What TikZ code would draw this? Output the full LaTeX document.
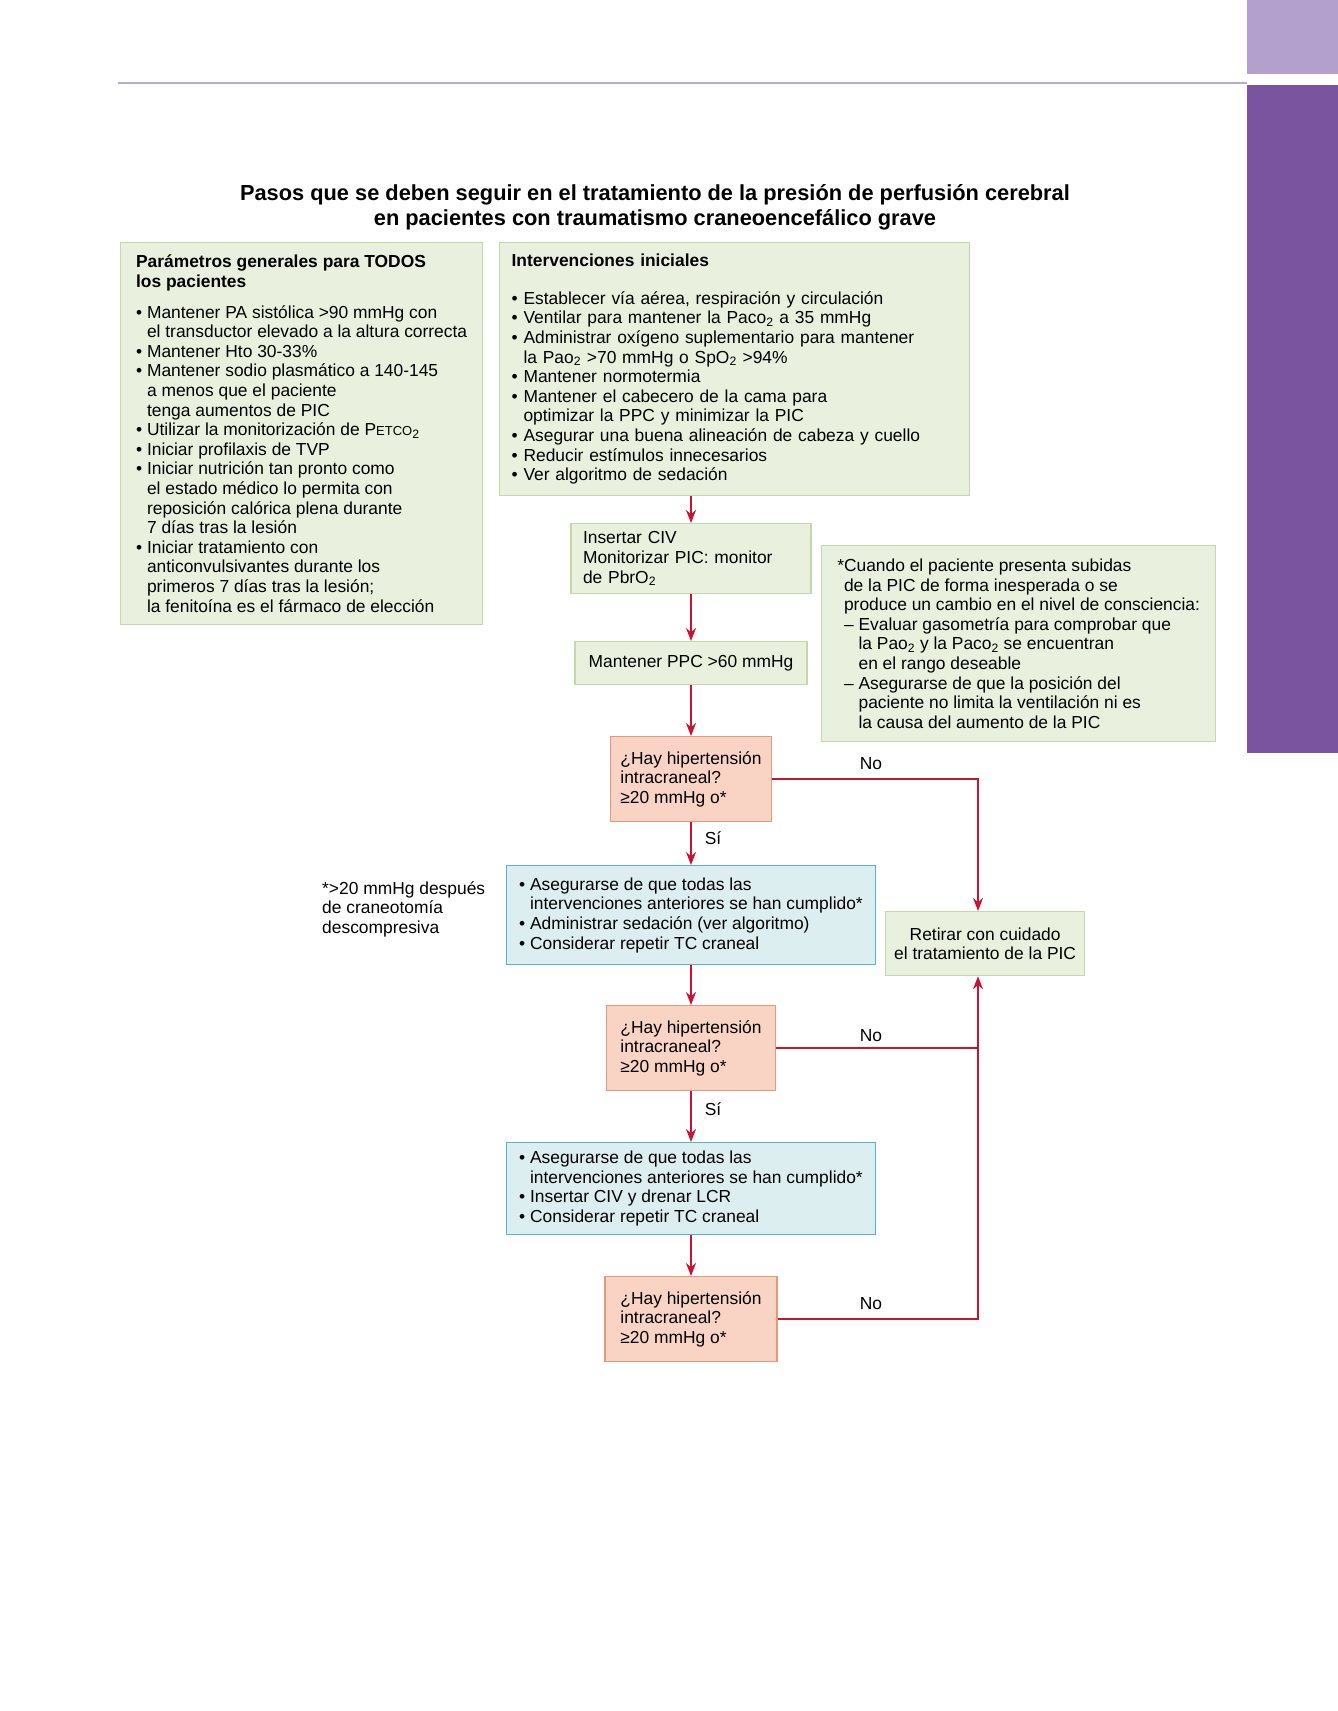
\documentclass[tikz,border=0pt]{standalone}
\usepackage{fontspec}
\setmainfont{Liberation Sans}
\usepackage{tikz}
\usetikzlibrary{arrows.meta,positioning,calc}
\definecolor{gfill}{RGB}{233,241,222}
\definecolor{gbord}{RGB}{196,216,170}
\definecolor{sfill}{RGB}{249,212,196}
\definecolor{sbord}{RGB}{232,152,122}
\definecolor{bfill}{RGB}{221,238,241}
\definecolor{bbord}{RGB}{86,180,212}
\definecolor{flowred}{RGB}{204,18,48}
\definecolor{lilac}{RGB}{180,160,205}
\definecolor{violet}{RGB}{123,84,160}
\definecolor{ruleln}{RGB}{184,172,206}
\newcommand{\bodyfont}{\fontsize{17.4}{19.6}\selectfont}
\newcommand{\titlefont}{\fontsize{21.8}{25}\selectfont\bfseries}
\newcommand{\bitem}{\textbullet\ }
\newcommand{\bcont}{\hphantom{\textbullet\ }}
\newcommand{\subtwo}{\textsubscript{2}}
\tikzset{
  box/.style={draw, line width=1.3pt, anchor=north west, align=left,
    inner xsep=12pt, inner ysep=4pt, font=\bodyfont},
  greenbox/.style={box, draw=gbord, fill=gfill},
  askbox/.style={box, draw=sbord, fill=sfill, anchor=north, inner xsep=10pt},
  bluebox/.style={box, draw=bbord, fill=bfill, anchor=north},
  flow/.style={-{Stealth[length=13pt,width=10pt]}, line width=1.8pt, flowred},
  railln/.style={line width=1.8pt, flowred},
  lbl/.style={font=\bodyfont, inner sep=0pt},
}

\begin{document}
\begin{tikzpicture}[x=1pt, y=-1pt]
    \useasboundingbox (0,0) rectangle (1338,1711);
    \fill[white] (0,0) rectangle (1338,1711);
    % page furniture
    \fill[lilac] (1247,0) rectangle (1338,74);
    \fill[violet] (1247,85) rectangle (1338,753);
    \draw[ruleln, line width=2pt] (118,83) -- (1247,83);
    \node[font=\titlefont, align=center] (titulo) at (655,207)
      {Pasos que se deben seguir en el tratamiento de la presión de perfusión cerebral\\
       en pacientes con traumatismo craneoencefálico grave};
    % upper green boxes
    \node[greenbox, minimum width=362pt, minimum height=382pt] (params) at (120,242)
      {\textbf{Parámetros generales para TODOS}\\
       \textbf{los pacientes}\\[11pt]
       \bitem Mantener PA sistólica >90 mmHg con\\
       \bcont el transductor elevado a la altura correcta\\
       \bitem Mantener Hto 30-33\%\\
       \bitem Mantener sodio plasmático a 140-145\\
       \bcont a menos que el paciente\\
       \bcont tenga aumentos de PIC\\
       \bitem Utilizar la monitorización de P{\fontsize{13}{13}\selectfont ETCO}\subtwo\\
       \bitem Iniciar profilaxis de TVP\\
       \bitem Iniciar nutrición tan pronto como\\
       \bcont el estado médico lo permita con\\
       \bcont reposición calórica plena durante\\
       \bcont 7 días tras la lesión\\
       \bitem Iniciar tratamiento con\\
       \bcont anticonvulsivantes durante los\\
       \bcont primeros 7 días tras la lesión;\\
       \bcont la fenitoína es el fármaco de elección};
    \node[greenbox, text width=446pt, minimum height=253pt] (inic) at (499,242)
      {\textbf{Intervenciones iniciales}\\[18pt]
       \bitem Establecer vía aérea, respiración y circulación\\
       \bitem Ventilar para mantener la Paco\subtwo{} a 35 mmHg\\
       \bitem Administrar oxígeno suplementario para mantener\\
       \bcont la Pao\subtwo{} >70 mmHg o SpO\subtwo{} >94\%\\
       \bitem Mantener normotermia\\
       \bitem Mantener el cabecero de la cama para\\
       \bcont optimizar la PPC y minimizar la PIC\\
       \bitem Asegurar una buena alineación de cabeza y cuello\\
       \bitem Reducir estímulos innecesarios\\
       \bitem Ver algoritmo de sedación};
    % main column
    \node[greenbox, anchor=north, text width=216pt, minimum height=70pt] (civ) at (691,523)
      {Insertar CIV\\ Monitorizar PIC: monitor\\ de PbrO\subtwo};
    \node[greenbox, anchor=north, minimum width=232pt, minimum height=43pt] (ppc) at (691,641)
      {Mantener PPC >60 mmHg};
    \node[askbox, minimum width=161pt, minimum height=85pt] (dec1) at (691,736)
      {¿Hay hipertensión\\ intracraneal?\\ ≥20 mmHg o*};
    \node[bluebox, minimum width=369pt, minimum height=99pt] (blue1) at (691,865)
      {\bitem Asegurarse de que todas las\\
       \bcont intervenciones anteriores se han cumplido*\\
       \bitem Administrar sedación (ver algoritmo)\\
       \bitem Considerar repetir TC craneal};
    \node[askbox, minimum width=169pt, minimum height=85pt] (dec2) at (691,1005)
      {¿Hay hipertensión\\ intracraneal?\\ ≥20 mmHg o*};
    \node[bluebox, minimum width=369pt, minimum height=92pt] (blue2) at (691,1142)
      {\bitem Asegurarse de que todas las\\
       \bcont intervenciones anteriores se han cumplido*\\
       \bitem Insertar CIV y drenar LCR\\
       \bitem Considerar repetir TC craneal};
    \node[askbox, minimum width=172pt, minimum height=85pt] (dec3) at (691,1276)
      {¿Hay hipertensión\\ intracraneal?\\ ≥20 mmHg o*};
    % side boxes and notes
    \node[greenbox, minimum width=394pt, minimum height=196pt] (nota) at (821,545)
      {*Cuando el paciente presenta subidas\\
       \hphantom{*}de la PIC de forma inesperada o se\\
       \hphantom{*}produce un cambio en el nivel de consciencia:\\
       \hphantom{*}– Evaluar gasometría para comprobar que\\
       \hphantom{*– }la Pao\subtwo{} y la Paco\subtwo{} se encuentran\\
       \hphantom{*– }en el rango deseable\\
       \hphantom{*}– Asegurarse de que la posición del\\
       \hphantom{*– }paciente no limita la ventilación ni es\\
       \hphantom{*– }la causa del aumento de la PIC};
    \node[greenbox, align=center, inner xsep=7pt, minimum width=199pt, minimum height=64pt] (ret) at (885,911)
      {Retirar con cuidado\\ el tratamiento de la PIC};
    \node[lbl, anchor=west, align=left] (craneo) at (322,909)
      {*>20 mmHg después\\ de craneotomía\\ descompresiva};
    \coordinate (rail) at (978,777);
    % arrows
    \draw[flow] (inic.south -| civ) -- (civ);
    \draw[flow] (civ) -- (ppc);
    \draw[flow] (ppc) -- (dec1);
    \draw[flow] (dec1) -- (blue1);
    \draw[flow] (blue1) -- (dec2);
    \draw[flow] (dec2) -- (blue2);
    \draw[flow] (blue2) -- (dec3);
    \draw[flow] (dec1.east) -| (rail |- ret.north);
    \draw[railln] (dec2.east) -- (dec2.east -| rail);
    \draw[flow] (dec3.east) -| (rail |- ret.south);
    % answer labels
    \node[lbl] (si1) at (713,838) {Sí};
    \node[lbl] (si2) at (713,1109) {Sí};
    \node[lbl] (no1) at (871,764) {No};
    \node[lbl] (no2) at (871,1036) {No};
    \node[lbl] (no3) at (871,1304) {No};
\end{tikzpicture}
\end{document}
